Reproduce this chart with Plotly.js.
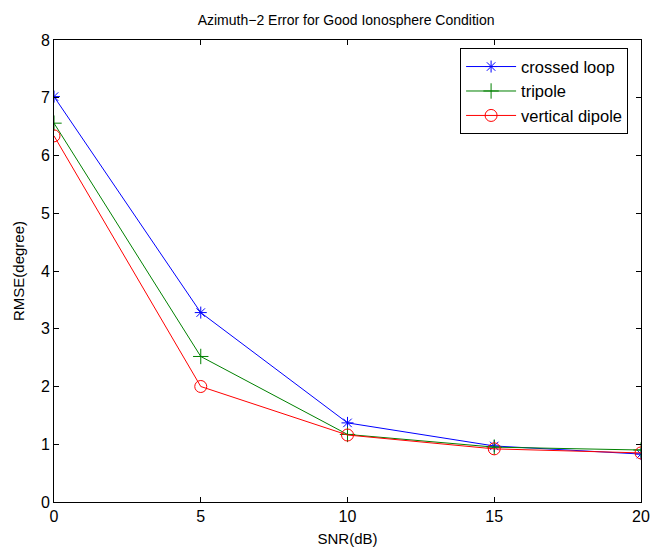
<!DOCTYPE html>
<html><head><meta charset="utf-8">
<script src="https://cdn.plot.ly/plotly-3.0.1.min.js"></script>
<style>html,body{margin:0;padding:0;background:#fff}#c{width:653px;height:551px}</style>
</head><body><div id="c"></div>
<script>
const snr = [0, 5, 10, 15, 20];
const crossedLoop = [7.02, 3.28, 1.37, 0.97, 0.83];
const tripole = [6.56, 2.52, 1.17, 0.95, 0.90];
const verticalDipole = [6.34, 2.00, 1.16, 0.92, 0.85];
const xTicks = [0, 5, 10, 15, 20];
const yTicks = [0, 1, 2, 3, 4, 5, 6, 7, 8];

const font = 'Liberation Sans, Arial, sans-serif';
function tr(name, y, color, symbol, size) {
  return {x: snr, y: y, name: name, type: 'scatter', mode: 'lines+markers',
    line: {color: color, width: 1},
    marker: {symbol: symbol, size: size, color: color, line: {color: color, width: 1}}};
}
const data = [
  tr('crossed loop', crossedLoop, '#0000ff', 'asterisk-open', 10),
  tr('tripole', tripole, '#008000', 'cross-thin-open', 11),
  tr('vertical dipole', verticalDipole, '#ff0000', 'circle-open', 12)
];
const axisCommon = {showline: true, linecolor: '#000', linewidth: 1, mirror: 'ticks',
  ticks: 'inside', ticklen: 5, tickcolor: '#000', showgrid: false, zeroline: false,
  tickfont: {family: font, size: 16, color: '#000'}};
const layout = {
  width: 653, height: 551,
  margin: {l: 54, r: 12, t: 40, b: 49},
  paper_bgcolor: '#fff', plot_bgcolor: '#fff',
  title: {text: 'Azimuth\u22122 Error for Good Ionosphere Condition', font: {family: font, size: 14, color: '#000'},
    x: 0.53, xanchor: 'center', y: 0.963, yanchor: 'middle'},
  xaxis: Object.assign({}, axisCommon, {range: [0, 20], tickvals: xTicks, ticktext: xTicks.map(String),
    title: {text: 'SNR(dB)', font: {family: font, size: 15, color: '#000'}, standoff: 9}}),
  yaxis: Object.assign({}, axisCommon, {range: [0, 8], tickvals: yTicks, ticktext: yTicks.map(String),
    title: {text: 'RMSE(degree)', font: {family: font, size: 15, color: '#000'}, standoff: 12}}),
  legend: {x: 0.978, xanchor: 'right', y: 0.982, yanchor: 'top', bgcolor: '#fff',
    bordercolor: '#000', borderwidth: 1, font: {family: font, size: 16.5, color: '#000'},
    tracegroupgap: 0, itemwidth: 50, entrywidth: 0},
  showlegend: true
};
Plotly.newPlot('c', data, layout, {displayModeBar: false, staticPlot: true});
</script></body></html>
